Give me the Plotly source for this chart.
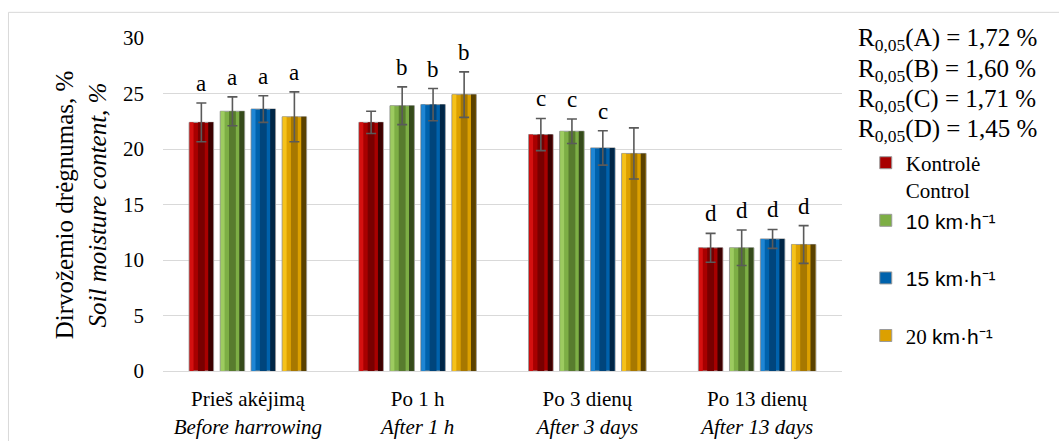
import plotly.graph_objects as go

# ---------------- data ----------------
groups_lt = ["Prieš akėjimą", "Po 1 h", "Po 3 dienų", "Po 13 dienų"]
groups_en = ["Before harrowing", "After 1 h", "After 3 days", "After 13 days"]

series_names = [
    "Kontrolė<br>Control",
    "10 km·h⁻¹",
    "15 km·h⁻¹",
    "20 km·h⁻¹",
]

control = [22.4, 22.4, 21.3, 11.1]
control_err = [1.75, 1.0, 1.45, 1.3]
speed10 = [23.4, 23.9, 21.6, 11.1]
speed10_err = [1.3, 1.7, 1.1, 1.6]
speed15 = [23.6, 24.0, 20.1, 11.9]
speed15_err = [1.2, 1.45, 1.55, 0.85]
speed20 = [22.9, 24.9, 19.6, 11.4]
speed20_err = [2.25, 2.05, 2.3, 1.7]

control_letters = ["a", "", "c", "d"]
speed10_letters = ["a", "b", "c", "d"]
speed15_letters = ["a", "b", "c", "d"]
speed20_letters = ["a", "b", "", "d"]

lsd_factors = ["A", "B", "C", "D"]
lsd_values = ["1,72", "1,60", "1,71", "1,45"]

y_ticks = [0, 5, 10, 15, 20, 25, 30]

# ---------------- styling ----------------
SERIF = "Liberation Serif"
SANS = "Liberation Sans"


def sans(t):
    return f"<span style='font-family:{SANS}'>{t}</span>"


legend_labels = [
    series_names[0],
    sans(series_names[1]) + "<br>\u00a0",
    sans(series_names[2]) + "<br>\u00a0",
    "20 " + sans(series_names[3][3:]) + "<br>\u00a0",
]

series = [
    (control, control_err, control_letters),
    (speed10, speed10_err, speed10_letters),
    (speed15, speed15_err, speed15_letters),
    (speed20, speed20_err, speed20_letters),
]
# face, light edge, centre stripe, dark right edge
palettes = [
    ("#A80000", "#D41010", "#780000", "#3C0000"),
    ("#7DAE45", "#9DCB60", "#587C2E", "#354A1B"),
    ("#0062AC", "#1F86D4", "#00457C", "#002646"),
    ("#DCA000", "#F6C21A", "#A77800", "#5A4100"),
]
centers = [-0.274, -0.091, 0.091, 0.274]
bar_w = 0.144

x_idx = list(range(len(groups_lt)))
ticktext = [f"{a}<br><i>{b}</i>" for a, b in zip(groups_lt, groups_en)]

fig = go.Figure()
annotations = []
for k, ((vals, errs, letters), pal, c) in enumerate(zip(series, palettes, centers)):
    face, light, mid, dark = pal
    fig.add_trace(go.Bar(
        x=x_idx, y=vals, offset=c - bar_w / 2, width=bar_w,
        marker=dict(color=face, line=dict(color="#9a9a9a", width=1)),
        name=legend_labels[k], showlegend=True, legendrank=k,
    ))
    fig.add_trace(go.Bar(
        x=x_idx, y=vals, offset=c - bar_w / 2 + 0.003, width=bar_w * 0.16,
        marker=dict(color=light, line=dict(width=0)), showlegend=False,
    ))
    fig.add_trace(go.Bar(
        x=x_idx, y=vals, offset=c + bar_w * 0.28, width=bar_w * 0.20,
        marker=dict(color=dark, line=dict(width=0)), showlegend=False,
    ))
    fig.add_trace(go.Bar(
        x=x_idx, y=vals, offset=c - bar_w * 0.14, width=bar_w * 0.28,
        marker=dict(color=mid, line=dict(width=0)), showlegend=False,
        error_y=dict(type="data", array=errs, visible=True, color="#5a5a5a",
                     thickness=1.6, width=5),
    ))
    for i, (v, e, lab) in enumerate(zip(vals, errs, letters)):
        if lab:
            annotations.append(dict(
                x=i + c, y=v + e, xref="x", yref="y", text=lab, showarrow=False,
                xanchor="center", yanchor="bottom", yshift=5,
                font=dict(family=SERIF, size=23, color="black"),
            ))

lsd_y = [0.994, 0.903, 0.812, 0.721]
for f, v, yy in zip(lsd_factors, lsd_values, lsd_y):
    annotations.append(dict(
        x=1.021, y=yy, xref="paper", yref="paper", xanchor="left", yanchor="middle",
        text=f"R<sub>0,05</sub>({f}) = {v} %", showarrow=False,
        font=dict(family=SERIF, size=25, color="black"),
    ))

annotations.append(dict(
    x=-0.121, y=0.5, xref="paper", yref="paper", xanchor="center", yanchor="middle",
    textangle=-90, showarrow=False,
    text="Dirvožemio drėgnumas, %<br><i>Soil moisture content, %</i>",
    font=dict(family=SERIF, size=25, color="black"),
))

fig.update_layout(
    width=1059, height=441,
    margin=dict(l=163, r=217, t=38, b=70, autoexpand=False),
    paper_bgcolor="white", plot_bgcolor="white",
    barmode="overlay",
    font=dict(family=SERIF, color="black"),
    annotations=annotations,
    legend=dict(
        x=1.035, y=0.686, xanchor="left", yanchor="top",
        font=dict(family=SERIF, size=21, color="black"),
        valign="top", bgcolor="rgba(0,0,0,0)", itemclick=False,
        tracegroupgap=0,
    ),
    xaxis=dict(
        range=[-0.5, 3.5], tickvals=x_idx, ticktext=ticktext,
        showgrid=False, zeroline=False, showline=True, linecolor="#d9d9d9",
        linewidth=1, ticks="", ticklabelstandoff=9, automargin=False,
        tickfont=dict(family=SERIF, size=21, color="black"),
    ),
    yaxis=dict(
        range=[0, 30], tickvals=y_ticks, showgrid=True,
        gridcolor="#d9d9d9", gridwidth=1, zeroline=False, showline=False,
        ticks="", ticklabelstandoff=18, automargin=False,
        tickfont=dict(family=SERIF, size=21, color="black"),
    ),
    shapes=[dict(
        type="rect", xref="paper", yref="paper",
        x0=-0.2276, x1=1.4, y0=-0.4, y1=1.077,
        line=dict(color="#d9d9d9", width=1), fillcolor="rgba(0,0,0,0)", layer="below",
    )],
    showlegend=True,
)

fig.write_html("out.html")
